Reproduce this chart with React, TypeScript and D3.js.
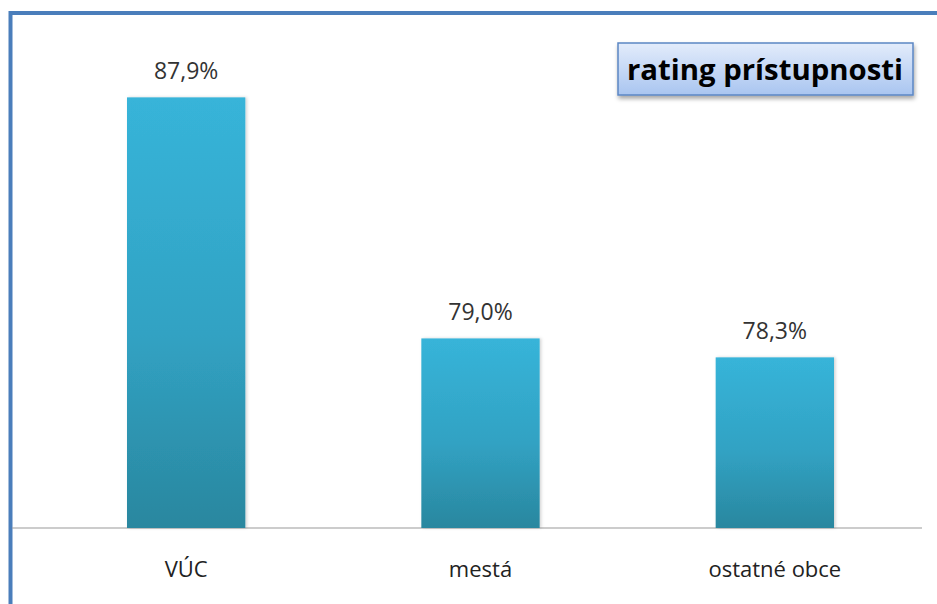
import React from "react";
import * as d3 from "d3";

const categories = ["VÚC", "mestá", "ostatné obce"];
const values = [87.9, 79.0, 78.3];
const valueLabels = ["87,9%", "79,0%", "78,3%"];
const yDomain = [72, 90];
const title = "rating prístupnosti";

const W = 937;
const H = 604;

export default function App() {
  const x = d3.scaleBand<string>().domain(categories).range([39, 922]).paddingInner(0.598).paddingOuter(0.299);
  const y = d3.scaleLinear().domain(yDomain).range([528, 40.5]);
  const font = "'Open Sans', 'DejaVu Sans', sans-serif";
  return (
    <svg width={W} height={H} style={{ position: "absolute", left: 0, top: 0, background: "#fff" }}>
      <defs>
        <linearGradient id="barGrad" x1="0" y1="0" x2="0" y2="1">
          <stop offset="0%" stopColor="#37b4d9" />
          <stop offset="55%" stopColor="#31a2c3" />
          <stop offset="100%" stopColor="#2a879f" />
        </linearGradient>
        <linearGradient id="titleGrad" x1="0" y1="0" x2="0" y2="1">
          <stop offset="0%" stopColor="#e3ecfb" />
          <stop offset="100%" stopColor="#a9c5f0" />
        </linearGradient>
        <filter id="shadow" x="-10%" y="-20%" width="130%" height="160%">
          <feDropShadow dx="1" dy="3" stdDeviation="2" floodColor="#000" floodOpacity="0.35" />
        </filter>
        <filter id="barShadow" x="-10%" y="-5%" width="125%" height="110%">
          <feDropShadow dx="1.5" dy="0" stdDeviation="1.5" floodColor="#000" floodOpacity="0.18" />
        </filter>
      </defs>
      <path d={`M10.5,${H} L10.5,13 L${W},13`} fill="none" stroke="#4a7ebb" strokeWidth={4} />
      <line x1={12} x2={922} y1={528} y2={528} stroke="#999" strokeWidth={1.2} />
      {categories.map((c, i) => {
        const bx = x(c)!;
        const bw = x.bandwidth();
        const top = y(values[i]);
        return (
          <g key={c}>
            <rect x={bx} y={top} width={bw} height={y(yDomain[0]) - top} fill="url(#barGrad)" filter="url(#barShadow)" />
            <text x={bx + bw / 2} y={top - 18} textAnchor="middle" fontFamily={font} fontSize={23} fill="#333">
              {valueLabels[i]}
            </text>
            <text x={bx + bw / 2} y={577} textAnchor="middle" fontFamily={font} fontSize={22} fill="#222">
              {c}
            </text>
          </g>
        );
      })}
      <g filter="url(#shadow)">
        <rect x={618} y={43} width={295} height={52} fill="url(#titleGrad)" stroke="#5b86c4" strokeWidth={1.5} />
      </g>
      <text x={627} y={80} fontFamily={font} fontWeight="bold" fontSize={28} fill="#000" textLength={276} lengthAdjust="spacingAndGlyphs">
        {title}
      </text>
    </svg>
  );
}
